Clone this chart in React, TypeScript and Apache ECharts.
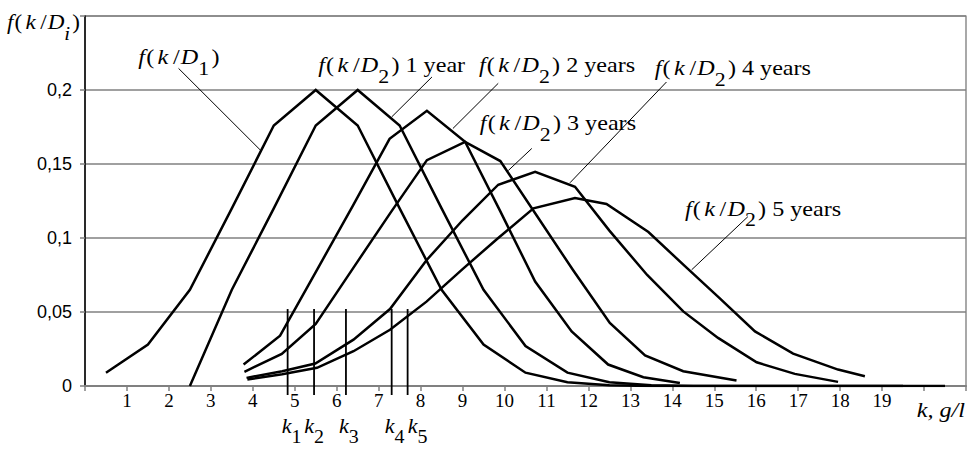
import React, { useEffect, useRef } from 'react';
import * as echarts from 'echarts';

// ---- data (k in g/l, f = probability density) ----
const kD1 = [0.5, 1.5, 2.5, 3.5, 4.5, 5.5, 6.5, 7.5, 8.5, 9.5, 10.5, 11.5, 12.5, 13.5, 14.5, 15.5, 16.5, 17.5, 18.5, 19.5];
const fD1 = [0.009, 0.028, 0.065, 0.12, 0.176, 0.2, 0.176, 0.12, 0.065, 0.028, 0.009, 0.0025, 0.0005, 0, 0, 0, 0, 0, 0, 0];

const kY1 = [2.5, 3.5, 4.5, 5.5, 6.5, 7.5, 8.5, 9.5, 10.5, 11.5, 12.5, 13.5, 14.5, 15.5, 16.5, 17.5, 18.5, 19.5, 20.5];
const fY1 = [0, 0.065, 0.12, 0.176, 0.2, 0.176, 0.12, 0.065, 0.027, 0.009, 0.0025, 0.0005, 0, 0, 0, 0, 0, 0, 0];

const kY2 = [3.78, 4.65, 5.52, 6.39, 7.26, 8.15, 9.06, 9.9, 10.73, 11.6, 12.47, 13.31, 14.18];
const fY2 = [0.0145, 0.034, 0.078, 0.122, 0.167, 0.186, 0.165, 0.118, 0.0706, 0.0369, 0.0145, 0.0059, 0.0021];

const kY3 = [3.8, 4.69, 5.5, 6.4, 7.28, 8.15, 9.06, 9.9, 10.77, 11.64, 12.51, 13.35, 14.26, 15.53];
const fY3 = [0.0096, 0.0217, 0.042, 0.08, 0.117, 0.1526, 0.165, 0.152, 0.115, 0.078, 0.0426, 0.0206, 0.01, 0.0037];

const kY4 = [3.85, 4.7, 5.49, 6.4, 7.27, 8.14, 9.0, 9.85, 10.73, 11.68, 12.5, 13.4, 14.26, 15.09, 16.01, 16.92, 17.95];
const fY4 = [0.0055, 0.01, 0.0152, 0.0313, 0.052, 0.085, 0.112, 0.136, 0.1447, 0.1346, 0.105, 0.075, 0.0504, 0.0325, 0.016, 0.0082, 0.0028];

const kY5 = [3.87, 4.7, 5.53, 6.4, 7.27, 8.14, 9.0, 9.85, 10.69, 11.68, 12.43, 13.43, 14.3, 15.1, 15.97, 16.88, 17.95, 18.59];
const fY5 = [0.0044, 0.008, 0.0123, 0.0235, 0.038, 0.057, 0.079, 0.1, 0.12, 0.127, 0.123, 0.104, 0.081, 0.06, 0.0369, 0.0219, 0.0111, 0.0066];

const xTickLabels = ['', '1', '2', '3', '4', '5', '6', '7', '8', '9', '10', '11', '12', '13', '14', '15', '16', '17', '18', '19', '', ''];
const yTickLabels = ['0', '0,05', '0,1', '0,15', '0,2', ''];

const kMarks = [4.83, 5.46, 6.22, 7.31, 7.69];
const kMarkNames = ['1', '2', '3', '4', '5'];
const kMarkTop = 0.052;

// annotation labels: subscript, tail text, label anchor, leader start, leader end (data coords)
const annSub = ['1', '2', '2', '2', '2', '2'];
const annTail = ['', ' 1 year', ' 2 years', ' 3 years', ' 4 years', ' 5 years'];
const annPos = [[1.27, 0.222], [5.56, 0.2166], [9.39, 0.2166], [9.41, 0.1775], [13.58, 0.2146], [14.3, 0.1196]];
const annFrom = [[2.23, 0.2146], [8.27, 0.2088], [9.85, 0.2045], [10.65, 0.1605], [13.86, 0.2054], [15.8, 0.1144]];
const annTo = [[4.18, 0.1594], [7.31, 0.1818], [8.77, 0.174], [10.09, 0.1456], [11.56, 0.1373], [14.46, 0.0785]];

const SERIF = 'Liberation Serif';
const SANS = 'Liberation Sans';

const zip = (xs: number[], ys: number[]) => xs.map((x, i) => [x, ys[i]]);

export default function App() {
  const ref = useRef<HTMLDivElement>(null);
  useEffect(() => {
    const chart = echarts.init(ref.current!, null, { renderer: 'svg' });
    const lineSeries = (xs: number[], ys: number[]) => ({
      type: 'line',
      data: zip(xs, ys),
      symbol: 'none',
      z: 3,
      lineStyle: { color: '#000', width: 2.5, join: 'miter' },
    });
    chart.setOption({
      animation: false,
      backgroundColor: '#fff',
      grid: { left: 85, right: 8, top: 16, bottom: 64, show: true, borderColor: '#707070', borderWidth: 1.2 },
      xAxis: {
        type: 'value', min: 0, max: 21, interval: 1,
        axisLine: { lineStyle: { color: '#808080', width: 2 } },
        axisTick: { show: true, length: 5, lineStyle: { color: '#808080', width: 1.5 } },
        splitLine: { show: false },
        axisLabel: {
          formatter: (v: number) => xTickLabels[Math.round(v)] ?? '',
          fontFamily: SERIF, fontSize: 19, color: '#000', margin: 5,
        },
      },
      yAxis: {
        type: 'value', min: 0, max: 0.25, interval: 0.05,
        axisLine: { show: true, lineStyle: { color: '#000', width: 1.5 } },
        axisTick: { show: true, length: 5, lineStyle: { color: '#808080', width: 1.5 } },
        splitLine: { show: true, lineStyle: { color: '#808080', width: 1.5 } },
        axisLabel: {
          formatter: (v: number) => yTickLabels[Math.round(v / 0.05)] ?? '',
          fontFamily: SANS, fontSize: 18, color: '#000', margin: 13,
        },
      },
      series: [
        lineSeries(kD1, fD1),
        lineSeries(kY1, fY1),
        lineSeries(kY2, fY2),
        lineSeries(kY3, fY3),
        lineSeries(kY4, fY4),
        lineSeries(kY5, fY5),
      ],
    });

    const px = (p: number[]) => chart.convertToPixel({ gridIndex: 0 }, p) as number[];
    const FS = 21;
    const rich = {
      i: { fontFamily: SERIF, fontStyle: 'italic', fontSize: FS },
      ip: { fontFamily: SERIF, fontStyle: 'italic', fontSize: FS, padding: [0, 3, 0, 2] },
      r: { fontFamily: SERIF, fontSize: FS },
      rp: { fontFamily: SERIF, fontSize: FS, padding: [0, 1, 0, 1] },
      s: { fontFamily: SERIF, fontSize: 19, padding: [22, 2, 0, 0] },
      si: { fontFamily: SERIF, fontStyle: 'italic', fontSize: 19, padding: [22, 2, 0, 0] },
    };
    const fText = (sub: string, tail: string, subStyle = 's') =>
      `{i|f}{rp|(}{ip|k}{rp|/}{i|D}{${subStyle}|${sub}}{r|)${tail}}`;

    const textEl = (x: number, y: number, text: string, align: string, sx = 1.15) => ({
      type: 'text', x, y, scaleX: sx, z: 10,
      style: { text, rich, align, verticalAlign: 'middle', fill: '#000' },
    });

    const graphics: any[] = [];
    annPos.forEach((pos, i) => {
      const p = px(pos);
      graphics.push(textEl(p[0], p[1], fText(annSub[i], annTail[i]), 'left'));
      const a = px(annFrom[i]);
      const b = px(annTo[i]);
      graphics.push({ type: 'line', z: 10, shape: { x1: a[0], y1: a[1], x2: b[0], y2: b[1] }, style: { stroke: '#000', lineWidth: 1 } });
    });

    // axis title f(k/D_i)
    const topLeft = px([0, 0.25]);
    graphics.push(textEl(topLeft[0] - 78, topLeft[1] + 6, fText('i', '', 'si'), 'left', 1.1));

    // k markers
    const base = px([0, 0]);
    const kLabelDx = [5, 1, 4, 4, 11];
    kMarks.forEach((k, i) => {
      const t = px([k, kMarkTop]);
      graphics.push({ type: 'line', z: 10, shape: { x1: t[0], y1: t[1], x2: t[0], y2: base[1] + 9 }, style: { stroke: '#000', lineWidth: 1.8 } });
      graphics.push(textEl(t[0] + kLabelDx[i], base[1] + 40, `{i|k}{s|${kMarkNames[i]}}`, 'center', 1.05));
    });

    // axis name "k, g/l"
    const right = px([21, 0]);
    graphics.push({
      type: 'text', x: right[0] - 1, y: right[1] + 24, scaleX: 1.15, z: 10,
      style: { text: 'k, g/l', align: 'right', verticalAlign: 'middle', fill: '#000', fontFamily: SERIF, fontStyle: 'italic', fontSize: FS },
    });

    chart.setOption({ graphic: graphics });
    return () => chart.dispose();
  }, []);
  return <div ref={ref} style={{ position: 'fixed', left: 0, top: 0, width: 974, height: 450, background: '#fff' }} />;
}
